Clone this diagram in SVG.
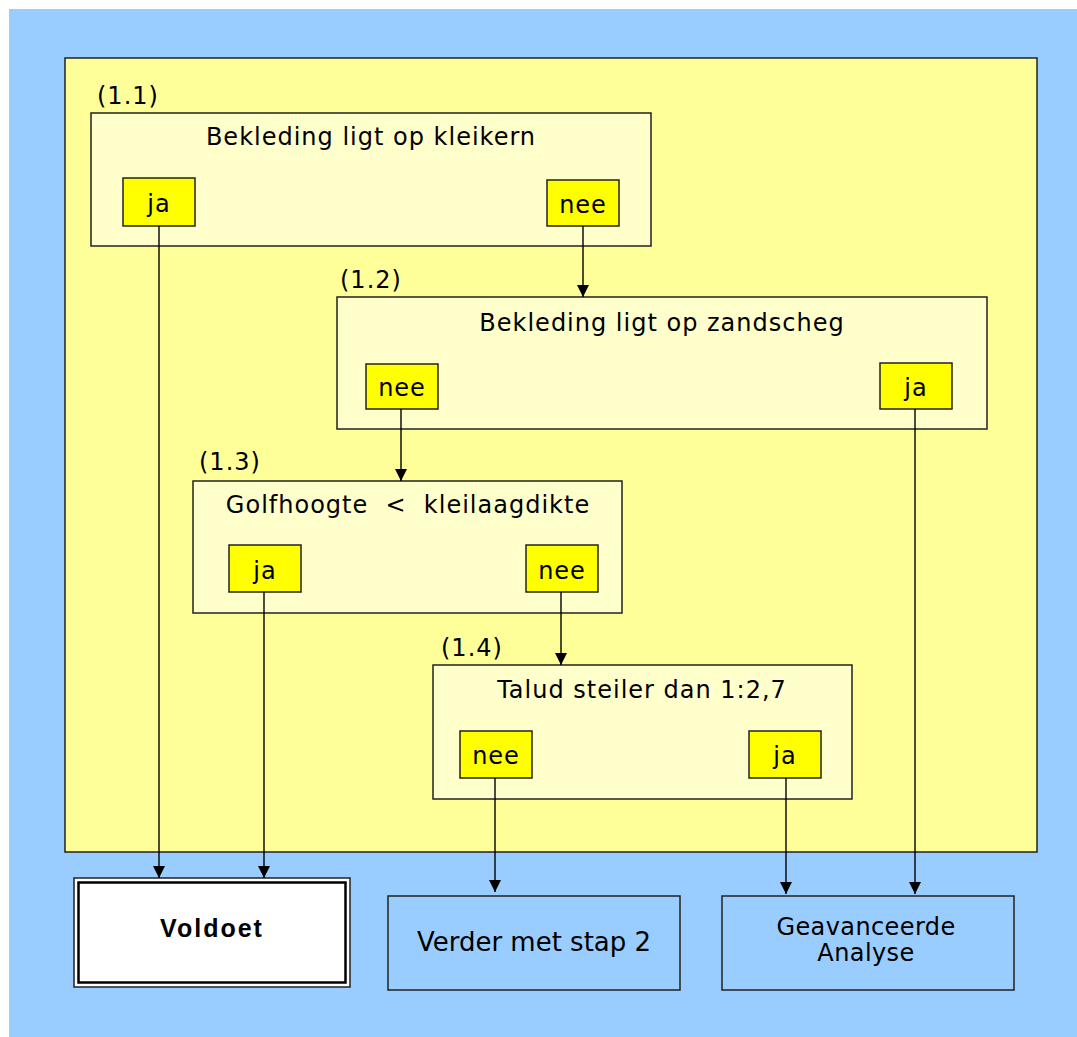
<svg xmlns="http://www.w3.org/2000/svg" width="1077" height="1037" viewBox="0 0 1077 1037">
<defs>
<style>
.t{font-family:"DejaVu Sans",Verdana,sans-serif;font-size:24px;letter-spacing:1px;fill:#000}
.btn{fill:#FFFF00;stroke:#222;stroke-width:1.5}
.q{fill:#FFFFCC;stroke:#222;stroke-width:1.5}
.c{stroke:#000;stroke-width:1.4;fill:none;marker-end:url(#ah)}
.bt{font-family:"DejaVu Sans",Verdana,sans-serif;font-size:26px;fill:#000}
.bt2{font-family:"DejaVu Sans",Verdana,sans-serif;font-size:24px;letter-spacing:0.4px;fill:#000}
</style>
<marker id="ah" viewBox="0 0 12 12" refX="12" refY="6" markerWidth="12" markerHeight="12" markerUnits="userSpaceOnUse" orient="auto">
<path d="M0,0 L12,6 L0,12 z" fill="#000"/>
</marker>
</defs>
<rect x="0" y="0" width="1077" height="1037" fill="#fff"/>
<rect x="9" y="9" width="1068" height="1028" fill="#99CCFF"/>
<rect x="65" y="58" width="972" height="794" fill="#FFFF99" stroke="#222" stroke-width="1.5"/>

<g id="q11">
<text class="t" x="97" y="104">(1.1)</text>
<rect class="q" x="91" y="113" width="560" height="133"/>
<text class="t" x="371" y="145" text-anchor="middle">Bekleding ligt op kleikern</text>
<rect class="btn" x="123" y="178" width="72" height="48"/>
<text class="t" x="159" y="212" text-anchor="middle">ja</text>
<rect class="btn" x="547" y="180" width="72" height="46"/>
<text class="t" x="583" y="213" text-anchor="middle">nee</text>
</g>

<g id="q12">
<text class="t" x="340" y="288">(1.2)</text>
<rect class="q" x="337" y="297" width="650" height="132"/>
<text class="t" x="662" y="331" text-anchor="middle">Bekleding ligt op zandscheg</text>
<rect class="btn" x="366" y="364" width="72" height="45"/>
<text class="t" x="402" y="396" text-anchor="middle">nee</text>
<rect class="btn" x="880" y="363" width="72" height="46"/>
<text class="t" x="916" y="396" text-anchor="middle">ja</text>
</g>

<g id="q13">
<text class="t" x="199" y="470">(1.3)</text>
<rect class="q" x="193" y="481" width="429" height="132"/>
<text class="t" x="408" y="513" text-anchor="middle" xml:space="preserve">Golfhoogte  &lt;  kleilaagdikte</text>
<rect class="btn" x="229" y="545" width="72" height="47"/>
<text class="t" x="265" y="579" text-anchor="middle">ja</text>
<rect class="btn" x="526" y="545" width="72" height="47"/>
<text class="t" x="562" y="579" text-anchor="middle">nee</text>
</g>

<g id="q14">
<text class="t" x="441" y="656">(1.4)</text>
<rect class="q" x="433" y="665" width="419" height="134"/>
<text class="t" x="642" y="698" text-anchor="middle">Talud steiler dan 1:2,7</text>
<rect class="btn" x="460" y="731" width="72" height="47"/>
<text class="t" x="496" y="764" text-anchor="middle">nee</text>
<rect class="btn" x="749" y="731" width="72" height="47"/>
<text class="t" x="785" y="764" text-anchor="middle">ja</text>
</g>

<g id="voldoet">
<rect x="74" y="878" width="276" height="109" fill="#fff" stroke="#222" stroke-width="1.5"/>
<rect x="78.5" y="882.5" width="267" height="100" fill="#fff" stroke="#000" stroke-width="2.5"/>
<text x="212" y="937" text-anchor="middle" font-family="'Liberation Sans',Arial,sans-serif" font-weight="bold" font-size="25" letter-spacing="2">Voldoet</text>
</g>

<g id="verder">
<rect x="388" y="896" width="292" height="94" fill="#99CCFF" stroke="#222" stroke-width="1.5"/>
<text class="bt" x="534" y="951" text-anchor="middle">Verder met stap 2</text>
</g>

<g id="geavanceerd">
<rect x="722" y="896" width="292" height="94" fill="#99CCFF" stroke="#222" stroke-width="1.5"/>
<text class="bt2" x="866" y="935" text-anchor="middle">Geavanceerde</text>
<text class="bt2" x="866" y="961" text-anchor="middle">Analyse</text>
</g>

<g id="connectors">
<path class="c" d="M159,226 V878"/>
<path class="c" d="M583,226 V297"/>
<path class="c" d="M401,409 V481"/>
<path class="c" d="M915,409 V894"/>
<path class="c" d="M264,592 V878"/>
<path class="c" d="M561,592 V665"/>
<path class="c" d="M495,778 V892"/>
<path class="c" d="M786,778 V894"/>
</g>
</svg>
